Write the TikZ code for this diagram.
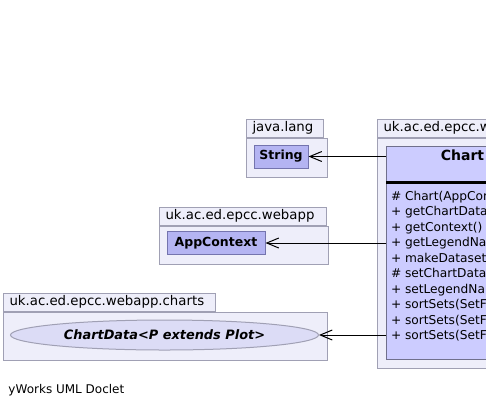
\documentclass[tikz,border=0pt]{standalone}
\usepackage{fontspec}
\setmainfont{DejaVu Sans}
\usetikzlibrary{arrows.meta,shapes.geometric,positioning}
\newcommand\umlfont{\fontsize{12.2}{15}\selectfont}
\newcommand\pkgfont{\fontsize{13.3}{16}\selectfont}
\definecolor{pkgfill}{HTML}{EEEEFA}
\definecolor{pkgline}{HTML}{A0A0B4}
\definecolor{classfill}{HTML}{CCCCFF}
\definecolor{classline}{HTML}{70708C}
\definecolor{reffill}{HTML}{B4B4F2}
\definecolor{refline}{HTML}{7474AE}
\definecolor{ifacefill}{HTML}{DCDCF6}
\tikzset{
		% package boxes: a tab with the name, a body below it
		package tab/.style={draw=pkgline,fill=pkgfill,anchor=north west,inner xsep=6pt,inner ysep=0pt,minimum height=17.5pt,align=left,font=\pkgfont},
		package body/.style={draw=pkgline,fill=pkgfill,anchor=north west},
		ref class/.style={draw=refline,fill=reffill,font=\fontsize{12.5}{15}\selectfont\bfseries,minimum height=23pt,inner sep=0pt},
		main class/.style={draw=classline,fill=classfill,anchor=north west},
		generic class/.style={ellipse,draw=pkgline,fill=ifacefill,inner sep=0pt,font=\fontsize{12.9}{15}\selectfont\bfseries\itshape},
		method/.style={anchor=base west,inner sep=0pt,font=\umlfont},
		dep/.style={draw,black,-{Straight Barb[length=12pt,width=10pt]}}
	}
\begin{document}
\begin{tikzpicture}[x=1pt,y=-1pt,line width=1pt]
		\path[use as bounding box] (0,0) rectangle (486,405);
		\clip (0,0) rectangle (486,405);
		% packages
		\node[package tab,text width=65pt] (langtab) at (246,119) {java.lang};
		\node[package body,minimum width=81pt,minimum height=39.5pt] (langbody) at (langtab.south west) {};
		\node[package tab,text width=155pt] (webapptab) at (159,207) {uk.ac.ed.epcc.webapp};
		\node[package body,minimum width=169pt,minimum height=38.5pt] (webappbody) at (webapptab.south west) {};
		\node[package tab,text width=200pt] (chartstab) at (3,293) {uk.ac.ed.epcc.webapp.charts};
		\node[package body,minimum width=324pt,minimum height=48.5pt] (chartsbody) at (chartstab.south west) {};
		\node[package tab,text width=188pt] (maintab) at (377,119) {uk.ac.ed.epcc.we};
		\node[package body,minimum width=170pt,minimum height=230.5pt] (mainbody) at (maintab.south west) {};
		% classes
		\node[ref class,minimum width=54pt] (String) at (281,156.5) {String};
		\node[ref class,minimum width=98pt] (AppContext) at (216,243) {AppContext};
		\node[generic class,minimum width=308pt,minimum height=30pt] (ChartData) at (164.5,335) {ChartData<P extends Plot>};
		\node[main class,minimum width=152pt,minimum height=213pt] (Chart) at (386,146) {};
		\node[font=\fontsize{14}{16}\selectfont\bfseries] (ChartName) at ([yshift=-9.5pt]Chart.north) {Chart};
		\draw[line width=2.5pt] ([yshift=-36.5pt]Chart.north west) -- ([yshift=-36.5pt]Chart.north east);
		\foreach \sym/\txt [count=\i] in {\#/Chart(AppCon,+/getChartData,+/getContext(),+/getLegendNa,+/makeDataset,\#/setChartData,+/setLegendNa,+/sortSets(SetF,+/sortSets(SetF,+/sortSets(SetF}
			{
			\node[method] (s\i) at (390.5,{184.5+\i*15.5}) {\sym};
			\node[method] (m\i) at (404.5,{184.5+\i*15.5}) {\txt};
			}
		% dependencies
		\draw[dep] (Chart.west |- String.east) -- (String.east);
		\draw[dep] (Chart.west |- AppContext.east) -- (AppContext.east);
		\draw[dep] (Chart.west |- ChartData.east) -- (ChartData.east);
		\node[anchor=base west,inner sep=0pt,font=\fontsize{12}{14}\selectfont] (doclet) at (8,393.5) {yWorks UML Doclet};
	\end{tikzpicture}
\end{document}
